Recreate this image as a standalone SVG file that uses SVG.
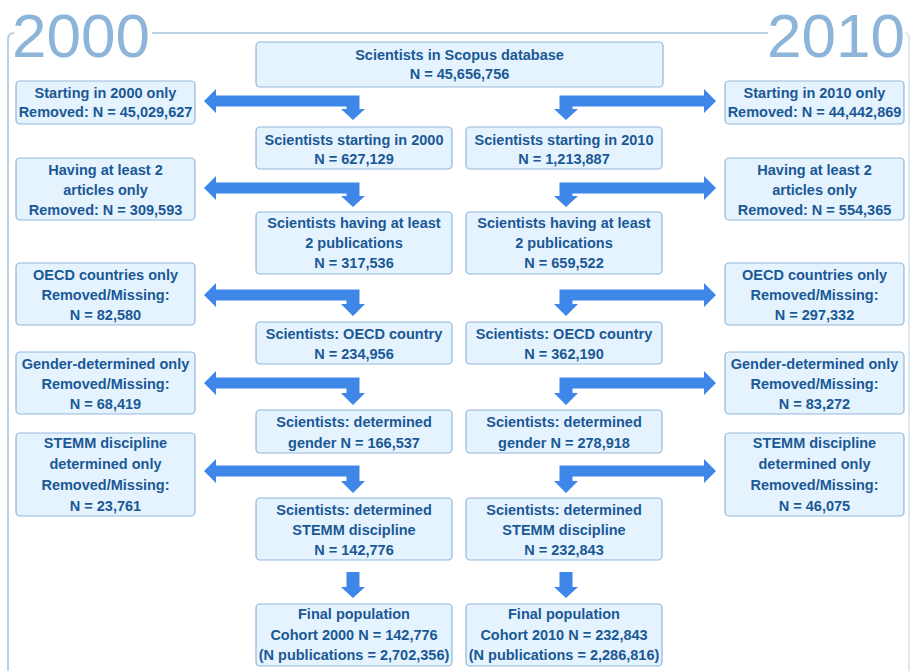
<svg xmlns="http://www.w3.org/2000/svg" width="910" height="671" viewBox="0 0 910 671">
<style>
.box{fill:#e4f3fd;stroke:#93b7d9;stroke-width:1.2}
.t{font-family:"Liberation Sans",Arial,sans-serif;font-weight:bold;font-size:14.5px;fill:#1b5896;text-anchor:middle}
.yr{font-family:"Liberation Sans",Arial,sans-serif;font-size:62px;fill:#8db4d9}
.arr{fill:#3e86e8}
.frame{fill:none;stroke:#bcd2e4;stroke-width:2}
</style>
<rect width="910" height="671" fill="#ffffff"/>
<g id="frame">
<path class="frame" d="M152,33 L768,33"/>
<path class="frame" d="M8,671 L8,40 Q8,33 14,33"/>
<path class="frame" d="M905,33 Q909,33 909,40 L909,671" stroke-opacity="0.5"/>
<text class="yr" x="12" y="57">2000</text>
<text class="yr" x="767" y="57">2010</text>
</g>
<g id="connectors">
<path class="arr" d="M204,101 L216,89 L216,95.5 L359.5,95.5 L359.5,109 L365,109 L353,120 L341,109 L346.5,109 L346.5,106.5 L216,106.5 L216,113 Z"/>
<path class="arr" d="M716,101 L704,89 L704,95.5 L559.5,95.5 L559.5,109 L554,109 L566,120 L578,109 L572.5,109 L572.5,106.5 L704,106.5 L704,113 Z"/>
<path class="arr" d="M204,188 L216,176 L216,182.5 L359.5,182.5 L359.5,196 L365,196 L353,207 L341,196 L346.5,196 L346.5,193.5 L216,193.5 L216,200 Z"/>
<path class="arr" d="M716,188 L704,176 L704,182.5 L559.5,182.5 L559.5,196 L554,196 L566,207 L578,196 L572.5,196 L572.5,193.5 L704,193.5 L704,200 Z"/>
<path class="arr" d="M204,295 L216,283 L216,289.5 L359.5,289.5 L359.5,304 L365,304 L353,316 L341,304 L346.5,304 L346.5,300.5 L216,300.5 L216,307 Z"/>
<path class="arr" d="M716,295 L704,283 L704,289.5 L559.5,289.5 L559.5,304 L554,304 L566,316 L578,304 L572.5,304 L572.5,300.5 L704,300.5 L704,307 Z"/>
<path class="arr" d="M204,383 L216,371 L216,377.5 L359.5,377.5 L359.5,393 L365,393 L353,405 L341,393 L346.5,393 L346.5,388.5 L216,388.5 L216,395 Z"/>
<path class="arr" d="M716,383 L704,371 L704,377.5 L559.5,377.5 L559.5,393 L554,393 L566,405 L578,393 L572.5,393 L572.5,388.5 L704,388.5 L704,395 Z"/>
<path class="arr" d="M204,471 L216,459 L216,465.5 L359.5,465.5 L359.5,481 L365,481 L353,493 L341,481 L346.5,481 L346.5,476.5 L216,476.5 L216,483 Z"/>
<path class="arr" d="M716,471 L704,459 L704,465.5 L559.5,465.5 L559.5,481 L554,481 L566,493 L578,481 L572.5,481 L572.5,476.5 L704,476.5 L704,483 Z"/>
<path class="arr" d="M346.5,572 L359.5,572 L359.5,587 L365,587 L353,598 L341,587 L346.5,587 Z"/>
<path class="arr" d="M559.5,572 L572.5,572 L572.5,587 L578,587 L566,598 L554,587 L559.5,587 Z"/>
</g>
<g id="n_top"><rect class="box" x="256" y="42" width="407" height="45" rx="4"/>
<text class="t" x="459.5" y="60">Scientists in Scopus database</text><text class="t" x="459.5" y="79">N = 45,656,756</text></g>

<g id="l1"><rect class="box" x="16" y="81" width="179" height="43" rx="4"/>
<text class="t" x="105.5" y="98">Starting in 2000 only</text><text class="t" x="105.5" y="117">Removed: N = 45,029,627</text></g>
<g id="l2"><rect class="box" x="16" y="158" width="179" height="62" rx="4"/>
<text class="t" x="105.5" y="175">Having at least 2</text><text class="t" x="105.5" y="195">articles only</text><text class="t" x="105.5" y="215">Removed: N = 309,593</text></g>
<g id="l3"><rect class="box" x="16" y="263" width="179" height="62" rx="4"/>
<text class="t" x="105.5" y="280">OECD countries only</text><text class="t" x="105.5" y="300">Removed/Missing:</text><text class="t" x="105.5" y="320">N = 82,580</text></g>
<g id="l4"><rect class="box" x="16" y="352" width="179" height="62" rx="4"/>
<text class="t" x="105.5" y="369">Gender-determined only</text><text class="t" x="105.5" y="389">Removed/Missing:</text><text class="t" x="105.5" y="409">N = 68,419</text></g>
<g id="l5"><rect class="box" x="16" y="433" width="179" height="83" rx="4"/>
<text class="t" x="105.5" y="448">STEMM discipline</text><text class="t" x="105.5" y="469">determined only</text><text class="t" x="105.5" y="490">Removed/Missing:</text><text class="t" x="105.5" y="511">N = 23,761</text></g>

<g id="r1"><rect class="box" x="725" y="81" width="179" height="43" rx="4"/>
<text class="t" x="814.5" y="98">Starting in 2010 only</text><text class="t" x="814.5" y="117">Removed: N = 44,442,869</text></g>
<g id="r2"><rect class="box" x="725" y="158" width="179" height="62" rx="4"/>
<text class="t" x="814.5" y="175">Having at least 2</text><text class="t" x="814.5" y="195">articles only</text><text class="t" x="814.5" y="215">Removed: N = 554,365</text></g>
<g id="r3"><rect class="box" x="725" y="263" width="179" height="62" rx="4"/>
<text class="t" x="814.5" y="280">OECD countries only</text><text class="t" x="814.5" y="300">Removed/Missing:</text><text class="t" x="814.5" y="320">N = 297,332</text></g>
<g id="r4"><rect class="box" x="725" y="352" width="179" height="62" rx="4"/>
<text class="t" x="814.5" y="369">Gender-determined only</text><text class="t" x="814.5" y="389">Removed/Missing:</text><text class="t" x="814.5" y="409">N = 83,272</text></g>
<g id="r5"><rect class="box" x="725" y="433" width="179" height="83" rx="4"/>
<text class="t" x="814.5" y="448">STEMM discipline</text><text class="t" x="814.5" y="469">determined only</text><text class="t" x="814.5" y="490">Removed/Missing:</text><text class="t" x="814.5" y="511">N = 46,075</text></g>

<g id="a1"><rect class="box" x="256" y="127" width="196" height="42" rx="4"/>
<text class="t" x="354" y="145">Scientists starting in 2000</text><text class="t" x="354" y="164">N = 627,129</text></g>
<g id="a2"><rect class="box" x="256" y="212" width="196" height="62" rx="4"/>
<text class="t" x="354" y="228">Scientists having at least</text><text class="t" x="354" y="248">2 publications</text><text class="t" x="354" y="268">N = 317,536</text></g>
<g id="a3"><rect class="box" x="256" y="322" width="196" height="42" rx="4"/>
<text class="t" x="354" y="339">Scientists: OECD country</text><text class="t" x="354" y="359">N = 234,956</text></g>
<g id="a4"><rect class="box" x="256" y="410" width="196" height="43" rx="4"/>
<text class="t" x="354" y="427">Scientists: determined</text><text class="t" x="354" y="448">gender N = 166,537</text></g>
<g id="a5"><rect class="box" x="256" y="498" width="196" height="62" rx="4"/>
<text class="t" x="354" y="515">Scientists: determined</text><text class="t" x="354" y="535">STEMM discipline</text><text class="t" x="354" y="555">N = 142,776</text></g>
<g id="a6"><rect class="box" x="256" y="604" width="196" height="62" rx="4"/>
<text class="t" x="354" y="619">Final population</text><text class="t" x="354" y="640">Cohort 2000 N = 142,776</text><text class="t" x="354" y="660">(N publications = 2,702,356)</text></g>

<g id="b1"><rect class="box" x="466" y="127" width="196" height="42" rx="4"/>
<text class="t" x="564" y="145">Scientists starting in 2010</text><text class="t" x="564" y="164">N = 1,213,887</text></g>
<g id="b2"><rect class="box" x="466" y="212" width="196" height="62" rx="4"/>
<text class="t" x="564" y="228">Scientists having at least</text><text class="t" x="564" y="248">2 publications</text><text class="t" x="564" y="268">N = 659,522</text></g>
<g id="b3"><rect class="box" x="466" y="322" width="196" height="42" rx="4"/>
<text class="t" x="564" y="339">Scientists: OECD country</text><text class="t" x="564" y="359">N = 362,190</text></g>
<g id="b4"><rect class="box" x="466" y="410" width="196" height="43" rx="4"/>
<text class="t" x="564" y="427">Scientists: determined</text><text class="t" x="564" y="448">gender N = 278,918</text></g>
<g id="b5"><rect class="box" x="466" y="498" width="196" height="62" rx="4"/>
<text class="t" x="564" y="515">Scientists: determined</text><text class="t" x="564" y="535">STEMM discipline</text><text class="t" x="564" y="555">N = 232,843</text></g>
<g id="b6"><rect class="box" x="466" y="604" width="196" height="62" rx="4"/>
<text class="t" x="564" y="619">Final population</text><text class="t" x="564" y="640">Cohort 2010 N = 232,843</text><text class="t" x="564" y="660">(N publications = 2,286,816)</text></g>
</svg>
